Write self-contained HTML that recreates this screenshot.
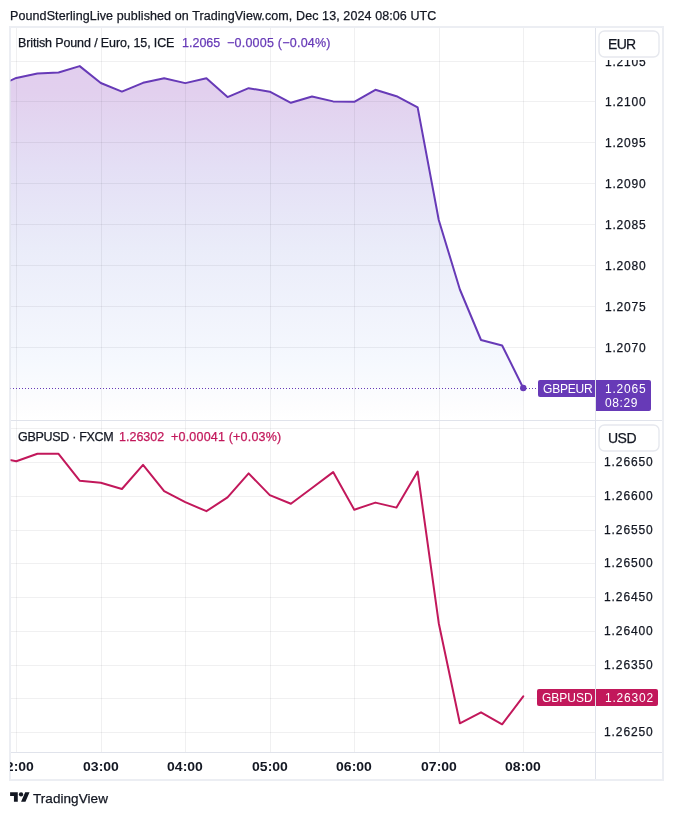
<!DOCTYPE html>
<html><head><meta charset="utf-8"><style>
html,body{margin:0;padding:0;background:#fff;}
body{width:673px;height:815px;position:relative;overflow:hidden;font-family:"Liberation Sans", sans-serif;-webkit-font-smoothing:antialiased;}
div{will-change:transform;-webkit-text-stroke:0.25px currentColor;}
</style></head><body>
<svg width="673" height="815" viewBox="0 0 673 815" style="position:absolute;left:0;top:0"><defs><linearGradient id="g1" gradientUnits="userSpaceOnUse" x1="0" y1="66" x2="0" y2="420"><stop offset="0" stop-color="#e2ceee"/><stop offset="0.076" stop-color="#e2d0ee"/><stop offset="0.288" stop-color="#e4dff5"/><stop offset="0.514" stop-color="#eaecf9"/><stop offset="0.825" stop-color="#f5f8fe"/><stop offset="0.966" stop-color="#fdfdfe"/><stop offset="1" stop-color="#ffffff"/></linearGradient><clipPath id="c1"><rect x="10" y="28" width="585" height="392"/></clipPath><clipPath id="c2"><rect x="10" y="421" width="585" height="331"/></clipPath></defs><g clip-path="url(#c1)"><polygon points="-4.82,87.50 16.30,77.90 37.42,73.50 58.55,72.50 79.67,66.10 100.79,83.00 121.92,91.60 143.04,82.80 164.16,78.20 185.28,83.10 206.41,78.20 227.53,97.10 248.65,88.20 269.78,91.70 290.90,102.80 312.02,96.50 333.15,101.40 354.27,101.80 375.39,89.80 396.51,96.20 417.64,107.40 438.76,220.00 459.88,289.50 481.01,340.00 502.13,345.50 523.25,388.00 523.25,420 -4.82,420" fill="url(#g1)"/><line x1="16.5" y1="28" x2="16.5" y2="420" stroke="rgba(42,46,57,0.07)" stroke-width="1"/><line x1="101.5" y1="28" x2="101.5" y2="420" stroke="rgba(42,46,57,0.07)" stroke-width="1"/><line x1="185.5" y1="28" x2="185.5" y2="420" stroke="rgba(42,46,57,0.07)" stroke-width="1"/><line x1="270.5" y1="28" x2="270.5" y2="420" stroke="rgba(42,46,57,0.07)" stroke-width="1"/><line x1="354.5" y1="28" x2="354.5" y2="420" stroke="rgba(42,46,57,0.07)" stroke-width="1"/><line x1="439.5" y1="28" x2="439.5" y2="420" stroke="rgba(42,46,57,0.07)" stroke-width="1"/><line x1="523.5" y1="28" x2="523.5" y2="420" stroke="rgba(42,46,57,0.07)" stroke-width="1"/><line x1="11" y1="61.5" x2="595" y2="61.5" stroke="rgba(42,46,57,0.07)" stroke-width="1"/><line x1="11" y1="101.5" x2="595" y2="101.5" stroke="rgba(42,46,57,0.07)" stroke-width="1"/><line x1="11" y1="142.5" x2="595" y2="142.5" stroke="rgba(42,46,57,0.07)" stroke-width="1"/><line x1="11" y1="183.5" x2="595" y2="183.5" stroke="rgba(42,46,57,0.07)" stroke-width="1"/><line x1="11" y1="224.5" x2="595" y2="224.5" stroke="rgba(42,46,57,0.07)" stroke-width="1"/><line x1="11" y1="265.5" x2="595" y2="265.5" stroke="rgba(42,46,57,0.07)" stroke-width="1"/><line x1="11" y1="306.5" x2="595" y2="306.5" stroke="rgba(42,46,57,0.07)" stroke-width="1"/><line x1="11" y1="347.5" x2="595" y2="347.5" stroke="rgba(42,46,57,0.07)" stroke-width="1"/><line x1="10" y1="388.5" x2="538" y2="388.5" stroke="#673ab7" stroke-width="1" stroke-dasharray="1 2"/><polyline points="-4.82,87.50 16.30,77.90 37.42,73.50 58.55,72.50 79.67,66.10 100.79,83.00 121.92,91.60 143.04,82.80 164.16,78.20 185.28,83.10 206.41,78.20 227.53,97.10 248.65,88.20 269.78,91.70 290.90,102.80 312.02,96.50 333.15,101.40 354.27,101.80 375.39,89.80 396.51,96.20 417.64,107.40 438.76,220.00 459.88,289.50 481.01,340.00 502.13,345.50 523.25,388.00" fill="none" stroke="#673ab7" stroke-width="2" stroke-linejoin="round" stroke-linecap="round"/><circle cx="523.25" cy="388" r="3.2" fill="#673ab7"/></g><g clip-path="url(#c2)"><line x1="16.5" y1="421" x2="16.5" y2="752" stroke="rgba(42,46,57,0.07)" stroke-width="1"/><line x1="101.5" y1="421" x2="101.5" y2="752" stroke="rgba(42,46,57,0.07)" stroke-width="1"/><line x1="185.5" y1="421" x2="185.5" y2="752" stroke="rgba(42,46,57,0.07)" stroke-width="1"/><line x1="270.5" y1="421" x2="270.5" y2="752" stroke="rgba(42,46,57,0.07)" stroke-width="1"/><line x1="354.5" y1="421" x2="354.5" y2="752" stroke="rgba(42,46,57,0.07)" stroke-width="1"/><line x1="439.5" y1="421" x2="439.5" y2="752" stroke="rgba(42,46,57,0.07)" stroke-width="1"/><line x1="523.5" y1="421" x2="523.5" y2="752" stroke="rgba(42,46,57,0.07)" stroke-width="1"/><line x1="11" y1="428.5" x2="595" y2="428.5" stroke="rgba(42,46,57,0.07)" stroke-width="1"/><line x1="11" y1="462.5" x2="595" y2="462.5" stroke="rgba(42,46,57,0.07)" stroke-width="1"/><line x1="11" y1="496.5" x2="595" y2="496.5" stroke="rgba(42,46,57,0.07)" stroke-width="1"/><line x1="11" y1="530.5" x2="595" y2="530.5" stroke="rgba(42,46,57,0.07)" stroke-width="1"/><line x1="11" y1="563.5" x2="595" y2="563.5" stroke="rgba(42,46,57,0.07)" stroke-width="1"/><line x1="11" y1="597.5" x2="595" y2="597.5" stroke="rgba(42,46,57,0.07)" stroke-width="1"/><line x1="11" y1="631.5" x2="595" y2="631.5" stroke="rgba(42,46,57,0.07)" stroke-width="1"/><line x1="11" y1="665.5" x2="595" y2="665.5" stroke="rgba(42,46,57,0.07)" stroke-width="1"/><line x1="11" y1="698.5" x2="595" y2="698.5" stroke="rgba(42,46,57,0.07)" stroke-width="1"/><line x1="11" y1="732.5" x2="595" y2="732.5" stroke="rgba(42,46,57,0.07)" stroke-width="1"/><polyline points="-4.82,457.00 16.30,461.30 37.42,453.80 58.55,453.80 79.67,480.70 100.79,482.80 121.92,489.00 143.04,464.90 164.16,491.20 185.28,502.20 206.41,511.20 227.53,497.30 248.65,473.40 269.78,495.10 290.90,503.70 312.02,488.00 333.15,472.10 354.27,509.70 375.39,502.60 396.51,507.60 417.64,471.60 438.76,623.20 459.88,723.30 481.01,712.30 502.13,724.30 523.25,696.40" fill="none" stroke="#c2185b" stroke-width="2" stroke-linejoin="round" stroke-linecap="round"/></g><line x1="11" y1="420.5" x2="662" y2="420.5" stroke="#e0e3eb" stroke-width="1"/><line x1="11" y1="752.5" x2="662" y2="752.5" stroke="#e0e3eb" stroke-width="1"/><line x1="595.5" y1="28" x2="595.5" y2="779" stroke="#e0e3eb" stroke-width="1"/><rect x="10" y="27" width="653" height="753" fill="none" stroke="rgba(224,227,235,0.6)" stroke-width="2"/><path d="M540,380 H595 V397 H540 Q538,397 538,395 V382 Q538,380 540,380 Z" fill="#673ab7"/><path d="M596,380 H649 Q651,380 651,382 V409 Q651,411 649,411 H596 Z" fill="#673ab7"/><path d="M539,689 H595 V706 H539 Q537,706 537,704 V691 Q537,689 539,689 Z" fill="#c2185b"/><path d="M596,689 H656 Q658,689 658,691 V704 Q658,706 656,706 H596 Z" fill="#c2185b"/><g transform="translate(10.1,790.1) scale(0.548,0.535)" fill="#131722"><path d="M14 22H7V11H0V4h14v18zM28 22h-8l7.5-18h8L28 22z"/><circle cx="20" cy="8" r="4"/></g></svg>
<div style="position:absolute;top:10.12px;font-size:12.5px;line-height:12.5px;color:#131722;font-weight:400;letter-spacing:0.1px;white-space:pre;left:10.00px;">PoundSterlingLive published on TradingView.com, Dec 13, 2024 08:06 UTC</div>
<div style="position:absolute;top:37.42px;font-size:12.5px;line-height:12.5px;color:#131722;font-weight:400;letter-spacing:-0.12px;white-space:pre;left:18.00px;">British Pound / Euro, 15, ICE</div>
<div style="position:absolute;top:37.42px;font-size:12.5px;line-height:12.5px;color:#673ab7;font-weight:400;letter-spacing:0px;white-space:pre;left:181.50px;">1.2065</div>
<div style="position:absolute;top:37.42px;font-size:12.5px;line-height:12.5px;color:#673ab7;font-weight:400;letter-spacing:0.23px;white-space:pre;left:227.00px;">−0.0005 (−0.04%)</div>
<div style="position:absolute;top:430.62px;font-size:12.5px;line-height:12.5px;color:#131722;font-weight:400;letter-spacing:-0.3px;white-space:pre;left:18.00px;">GBPUSD · FXCM</div>
<div style="position:absolute;top:430.62px;font-size:12.5px;line-height:12.5px;color:#c2185b;font-weight:400;letter-spacing:0px;white-space:pre;left:119.00px;">1.26302</div>
<div style="position:absolute;top:430.62px;font-size:12.5px;line-height:12.5px;color:#c2185b;font-weight:400;letter-spacing:0.2px;white-space:pre;left:171.00px;">+0.00041 (+0.03%)</div>
<div style="position:absolute;top:55.54px;font-size:12px;line-height:12px;color:#131722;font-weight:400;letter-spacing:0.8px;white-space:pre;left:604.50px;">1.2105</div>
<div style="position:absolute;top:95.54px;font-size:12px;line-height:12px;color:#131722;font-weight:400;letter-spacing:0.8px;white-space:pre;left:604.50px;">1.2100</div>
<div style="position:absolute;top:136.54px;font-size:12px;line-height:12px;color:#131722;font-weight:400;letter-spacing:0.8px;white-space:pre;left:604.50px;">1.2095</div>
<div style="position:absolute;top:177.54px;font-size:12px;line-height:12px;color:#131722;font-weight:400;letter-spacing:0.8px;white-space:pre;left:604.50px;">1.2090</div>
<div style="position:absolute;top:218.54px;font-size:12px;line-height:12px;color:#131722;font-weight:400;letter-spacing:0.8px;white-space:pre;left:604.50px;">1.2085</div>
<div style="position:absolute;top:259.54px;font-size:12px;line-height:12px;color:#131722;font-weight:400;letter-spacing:0.8px;white-space:pre;left:604.50px;">1.2080</div>
<div style="position:absolute;top:300.54px;font-size:12px;line-height:12px;color:#131722;font-weight:400;letter-spacing:0.8px;white-space:pre;left:604.50px;">1.2075</div>
<div style="position:absolute;top:341.54px;font-size:12px;line-height:12px;color:#131722;font-weight:400;letter-spacing:0.8px;white-space:pre;left:604.50px;">1.2070</div>
<div style="position:absolute;top:456.24px;font-size:12px;line-height:12px;color:#131722;font-weight:400;letter-spacing:0.9px;white-space:pre;left:604.00px;">1.26650</div>
<div style="position:absolute;top:490.24px;font-size:12px;line-height:12px;color:#131722;font-weight:400;letter-spacing:0.9px;white-space:pre;left:604.00px;">1.26600</div>
<div style="position:absolute;top:524.24px;font-size:12px;line-height:12px;color:#131722;font-weight:400;letter-spacing:0.9px;white-space:pre;left:604.00px;">1.26550</div>
<div style="position:absolute;top:557.24px;font-size:12px;line-height:12px;color:#131722;font-weight:400;letter-spacing:0.9px;white-space:pre;left:604.00px;">1.26500</div>
<div style="position:absolute;top:591.24px;font-size:12px;line-height:12px;color:#131722;font-weight:400;letter-spacing:0.9px;white-space:pre;left:604.00px;">1.26450</div>
<div style="position:absolute;top:625.24px;font-size:12px;line-height:12px;color:#131722;font-weight:400;letter-spacing:0.9px;white-space:pre;left:604.00px;">1.26400</div>
<div style="position:absolute;top:659.24px;font-size:12px;line-height:12px;color:#131722;font-weight:400;letter-spacing:0.9px;white-space:pre;left:604.00px;">1.26350</div>
<div style="position:absolute;top:726.24px;font-size:12px;line-height:12px;color:#131722;font-weight:400;letter-spacing:0.9px;white-space:pre;left:604.00px;">1.26250</div>
<div style="position:absolute;top:382.54px;font-size:12px;line-height:12px;color:#fff;font-weight:400;letter-spacing:-0.2px;white-space:pre;left:542.50px;-webkit-text-stroke:0;">GBPEUR</div>
<div style="position:absolute;top:382.54px;font-size:12px;line-height:12px;color:#fff;font-weight:400;letter-spacing:0.8px;white-space:pre;left:604.50px;-webkit-text-stroke:0;">1.2065</div>
<div style="position:absolute;top:396.64px;font-size:12px;line-height:12px;color:#fff;font-weight:400;letter-spacing:0.6px;white-space:pre;left:604.50px;-webkit-text-stroke:0;">08:29</div>
<div style="position:absolute;top:691.54px;font-size:12px;line-height:12px;color:#fff;font-weight:400;letter-spacing:0px;white-space:pre;left:541.50px;-webkit-text-stroke:0;">GBPUSD</div>
<div style="position:absolute;top:691.54px;font-size:12px;line-height:12px;color:#fff;font-weight:400;letter-spacing:0.8px;white-space:pre;left:604.50px;-webkit-text-stroke:0;">1.26302</div>
<div style="position:absolute;left:10px;top:753px;width:585px;height:26px;overflow:hidden"><div style="position:absolute;top:8.32px;font-size:12.5px;line-height:12.5px;color:#131722;font-weight:700;letter-spacing:0px;white-space:pre;left:-93.60px;width:200px;text-align:center;transform:scaleX(1.12);-webkit-text-stroke:0;">02:00</div><div style="position:absolute;top:8.32px;font-size:12.5px;line-height:12.5px;color:#131722;font-weight:700;letter-spacing:0px;white-space:pre;left:-9.11px;width:200px;text-align:center;transform:scaleX(1.12);-webkit-text-stroke:0;">03:00</div><div style="position:absolute;top:8.32px;font-size:12.5px;line-height:12.5px;color:#131722;font-weight:700;letter-spacing:0px;white-space:pre;left:75.38px;width:200px;text-align:center;transform:scaleX(1.12);-webkit-text-stroke:0;">04:00</div><div style="position:absolute;top:8.32px;font-size:12.5px;line-height:12.5px;color:#131722;font-weight:700;letter-spacing:0px;white-space:pre;left:159.88px;width:200px;text-align:center;transform:scaleX(1.12);-webkit-text-stroke:0;">05:00</div><div style="position:absolute;top:8.32px;font-size:12.5px;line-height:12.5px;color:#131722;font-weight:700;letter-spacing:0px;white-space:pre;left:244.37px;width:200px;text-align:center;transform:scaleX(1.12);-webkit-text-stroke:0;">06:00</div><div style="position:absolute;top:8.32px;font-size:12.5px;line-height:12.5px;color:#131722;font-weight:700;letter-spacing:0px;white-space:pre;left:328.86px;width:200px;text-align:center;transform:scaleX(1.12);-webkit-text-stroke:0;">07:00</div><div style="position:absolute;top:8.32px;font-size:12.5px;line-height:12.5px;color:#131722;font-weight:700;letter-spacing:0px;white-space:pre;left:413.35px;width:200px;text-align:center;transform:scaleX(1.12);-webkit-text-stroke:0;">08:00</div></div>
<div style="position:absolute;top:791.77px;font-size:13.5px;line-height:13.5px;color:#131722;font-weight:400;letter-spacing:0.06px;white-space:pre;left:33.10px;">TradingView</div>
<svg width="673" height="815" style="position:absolute;left:0;top:0"><rect x="596" y="28" width="66" height="32" fill="#fff"/><rect x="599" y="31" width="60" height="26" rx="5.5" fill="#fff" stroke="#e6e8ee" stroke-width="1.4"/><rect x="596" y="421" width="66" height="32" fill="#fff"/><rect x="599" y="425" width="60" height="26" rx="5.5" fill="#fff" stroke="#e6e8ee" stroke-width="1.4"/></svg>
<div style="position:absolute;top:36.65px;font-size:14px;line-height:14px;color:#131722;font-weight:400;letter-spacing:-0.7px;white-space:pre;left:607.50px;">EUR</div>
<div style="position:absolute;top:431.15px;font-size:14px;line-height:14px;color:#131722;font-weight:400;letter-spacing:-0.5px;white-space:pre;left:607.50px;">USD</div>
</body></html>
